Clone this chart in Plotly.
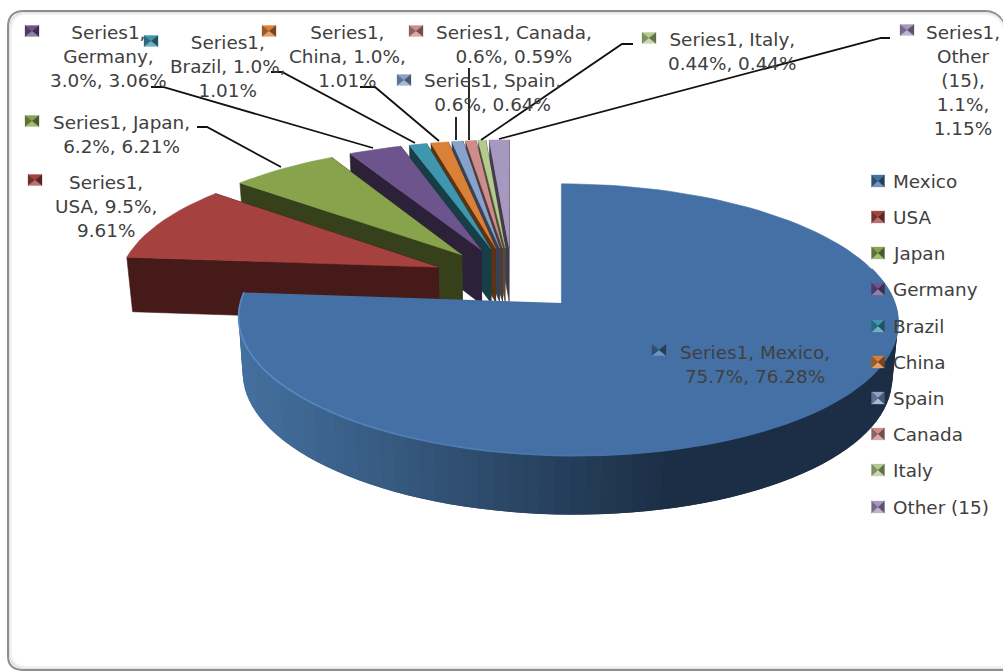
import numpy as np
import plotly.graph_objects as go

# Chart data
categories = ["Mexico", "USA", "Japan", "Germany", "Brazil", "China", "Spain", "Canada", "Italy", "Other (15)"]
shares = [76.28, 9.61, 6.21, 3.06, 1.01, 1.01, 0.64, 0.59, 0.44, 1.15]
shown_pct = ["75.7%", "9.5%", "6.2%", "3.0%", "1.0%", "1.0%", "0.6%", "0.6%", "0.44%", "1.1%"]
series_name = "Series1"

# Slice colours: top face, and side face at its darkest
top_colors = ["#4470A5", "#A54240", "#87A34B", "#6E548D", "#3E97AF", "#DA8137", "#87A3CC", "#CE8C8B", "#B4CB8E", "#A798BF"]
side_colors = ["#1C2E45", "#451A18", "#36411C", "#2C2138", "#173D47", "#5A3312", "#374257", "#553938", "#4A5339", "#44394F"]

# Projection of the tilted pie onto the page
CX, CY = 512.0, 279.0
RX, RY = 320.0, 128.0
PERSPECTIVE = 0.12
EXPLODE = 0.25
DEPTH = 55.0
SHRINK = 0.985
FONT = "DejaVu Sans"
FONT_SIZE = 18.4
TEXT = "#404040"


def project(x, y):
    s = 1.0 / (1.0 - PERSPECTIVE * np.asarray(y))
    return CX + RX * np.asarray(x) * s, CY + RY * np.asarray(y) * s


def project_low(x, y):
    # the same point on the underside of the slab
    sx, sy = project(x, y)
    s = 1.0 / (1.0 - PERSPECTIVE * np.asarray(y))
    return CX + (sx - CX) * SHRINK, sy + DEPTH * (0.55 + 0.45 * s)


def blend(c1, c2, t):
    a = [int(c1[i:i + 2], 16) for i in (1, 3, 5)]
    b = [int(c2[i:i + 2], 16) for i in (1, 3, 5)]
    return "#%02X%02X%02X" % tuple(int(round(p + (q - p) * t)) for p, q in zip(a, b))


fig = go.Figure()


def poly(xs, ys, color, edge=0.6):
    fig.add_trace(go.Scatter(x=list(xs), y=list(ys), mode="lines", fill="toself", fillcolor=color,
                             line=dict(color=color, width=edge), hoverinfo="skip", showlegend=False))


cum = np.cumsum([0] + shares) / sum(shares) * 2 * np.pi
for i in list(range(len(shares) - 1, 0, -1)) + [0]:
    a0, a1 = cum[i], cum[i + 1]
    mid = (a0 + a1) / 2
    ox, oy = EXPLODE * np.sin(mid), -EXPLODE * np.cos(mid)
    # keep the edge at twelve o'clock upright on the page
    ax = ox
    if i == 0:
        ax = ox * (1 - PERSPECTIVE * oy) / (1 - PERSPECTIVE * (oy - 1))
    n = max(12, int((a1 - a0) * 24))
    th = np.linspace(a0, a1, n)
    rimx, rimy = ox + np.sin(th), oy - np.cos(th)

    if i != 0:
        # radial walls of the exploded slices
        for a in (a1, a0):
            ex, ey = ox + np.sin(a), oy - np.cos(a)
            tx, ty = project([ax, ex], [oy, ey])
            lx, ly = project_low([ax, ex], [oy, ey])
            poly([tx[0], tx[1], lx[1], lx[0]], [ty[0], ty[1], ly[1], ly[0]], side_colors[i])
    else:
        # outer wall, in overlapping strips from dark at the right to light at the left
        for k in range(n - 1):
            xx, yy = rimx[k:k + 3], rimy[k:k + 3]
            if np.mean(yy) < oy - 0.1:
                continue
            tx, ty = project(xx, yy)
            lx, ly = project_low(xx, yy)
            t = np.clip((np.mean(tx) - 240) / 420.0, 0, 1)
            poly(np.r_[tx, lx[::-1]], np.r_[ty, ly[::-1]], blend("#44709F", side_colors[0], t), edge=0)

    tx, ty = project(np.r_[ax, rimx], np.r_[oy, rimy])
    poly(tx, ty, top_colors[i])

    if i == 0:
        # narrow highlight where the top face meets the wall
        for k in range(n - 1):
            xx, yy = rimx[k:k + 2], rimy[k:k + 2]
            if np.mean(yy) < oy - 0.25:
                continue
            tx, ty = project(xx, yy)
            t = np.clip((np.mean(tx) - 240) / 400.0, 0, 1)
            fig.add_trace(go.Scatter(x=list(tx), y=list(ty), mode="lines", hoverinfo="skip", showlegend=False,
                                     line=dict(color=blend("#5A8CC8", top_colors[0], t), width=1.6)))


def full_label(i):
    return f"{series_name}, {categories[i]}, {shown_pct[i]}, {shares[i]:.2f}%"


# Label placement: key centre, word counts per line, centre of the text block
label_layout = [
    ((659, 350), [2, 2], (755, 364)),
    ((35, 180), [1, 2, 1], (106, 206)),
    ((32, 121), [2, 2], (121, 134)),
    ((32, 31), [1, 1, 2], (108, 56)),
    ((151, 41), [1, 2, 1], (228, 66)),
    ((269, 31), [1, 2, 1], (347, 56)),
    ((404, 80), [2, 2], (492, 92)),
    ((416, 31), [2, 2], (514, 44)),
    ((649, 38), [2, 2], (732, 51)),
    ((907, 30), [1, 1, 1, 1, 1], (963, 80)),
]

# Leader lines from the labels to the slices
leaders = [
    [(151, 87), (163, 87), (373, 148)],
    [(271, 72), (282, 72), (415, 143)],
    [(360, 87), (375, 87), (439, 141)],
    [(456, 117), (456, 140)],
    [(469, 68), (469, 140)],
    [(633, 44), (622, 44), (481, 140)],
    [(890, 38), (881, 38), (499, 139)],
    [(197, 127), (207, 127), (281, 167)],
]
for pts in leaders:
    fig.add_trace(go.Scatter(x=[p[0] for p in pts], y=[p[1] for p in pts], mode="lines",
                             line=dict(color="#111111", width=1.8), hoverinfo="skip", showlegend=False))

shapes = []


def key(cx, cy, w, h, color):
    # bevelled swatch: four triangles meeting at the middle
    dark = blend(color, "#000000", 0.3)
    darker = blend(color, "#000000", 0.45)
    light = blend(color, "#FFFFFF", 0.25)
    x0, x1, y0, y1 = cx - w / 2, cx + w / 2, cy - h / 2, cy + h / 2
    tris = [
        ([(x0, y0), (x1, y0), (cx, cy)], color),
        ([(x0, y1), (x1, y1), (cx, cy)], light),
        ([(x0, y0), (x0, y1), (cx, cy)], dark),
        ([(x1, y0), (x1, y1), (cx, cy)], darker),
    ]
    for pts, c in tris:
        p = "M" + " L".join(f"{a},{b}" for a, b in pts) + " Z"
        shapes.append(dict(type="path", path=p, fillcolor=c, line=dict(color=c, width=0.3), layer="above"))


annotations = []


def text(s, x, y, anchor="center"):
    annotations.append(dict(x=x, y=y, text=s, showarrow=False, xanchor=anchor, yanchor="middle", align="center",
                            font=dict(family=FONT, size=FONT_SIZE, color=TEXT)))


for i, (k, wrap, place) in enumerate(label_layout):
    key(k[0], k[1], 14, 11, top_colors[i])
    words = full_label(i).split(" ")
    rows, pos = [], 0
    for count in wrap:
        rows.append(" ".join(words[pos:pos + count]))
        pos += count
    text("<br>".join(rows), place[0], place[1])

# Legend column
legend_rows = [181, 217, 253, 289, 326, 362, 398, 434, 470, 507]
for i, y in enumerate(legend_rows):
    key(878, y, 13, 12, top_colors[i])
    text(categories[i], 891, y, "left")

# Chart frame with a soft inner edge
frame = "M{l},{t1} Q{l},{t} {l1},{t} L985,{t} Q1000,{t} 1005,{t2} L1005,{b} L{l1},{b} Q{l},{b} {l},{b1} Z"
for off, col, w in ((3, "#F2F2F2", 2), (2, "#D8D8D8", 1.5), (0, "#8E8E8E", 2)):
    shapes.insert(0, dict(type="path", layer="below", line=dict(color=col, width=w),
                          path=frame.format(l=8 + off, t=11 + off, l1=24 + off, t1=27 + off, t2=27 + off,
                                            b=670 - off, b1=656 - off)))

fig.update_layout(
    width=1003, height=671, margin=dict(l=0, r=0, t=0, b=0),
    paper_bgcolor="#FFFFFF", plot_bgcolor="#FFFFFF", showlegend=False,
    xaxis=dict(range=[0, 1003], visible=False, fixedrange=True),
    yaxis=dict(range=[671, 0], visible=False, fixedrange=True),
    shapes=shapes, annotations=annotations,
)
fig.write_html("out.html", config=dict(displayModeBar=False))
